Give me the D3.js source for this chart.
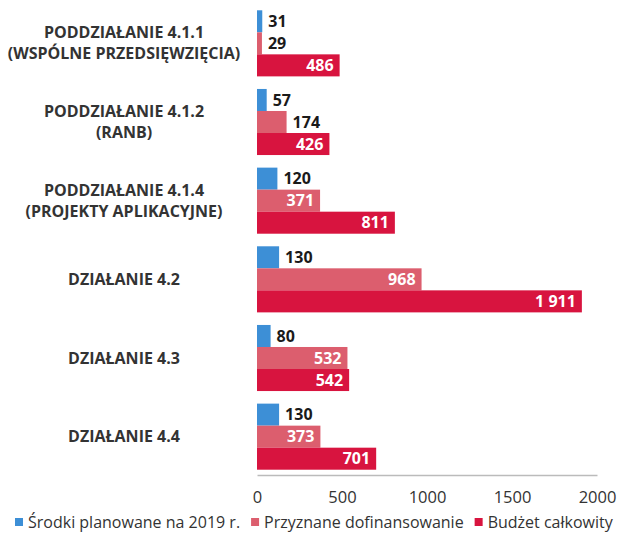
<!DOCTYPE html>
<html>
<head>
<meta charset="utf-8">
<script src="https://cdn.jsdelivr.net/npm/d3@7"></script>
<style>
  body { margin: 0; background: #fff; }
  svg { display: block; font-family: "Open Sans", sans-serif; }
</style>
</head>
<body>
<div id="chart"></div>
<script>
// chart data
const categories = [
  ["PODDZIAŁANIE 4.1.1", "(WSPÓLNE PRZEDSIĘWZIĘCIA)"],
  ["PODDZIAŁANIE 4.1.2", "(RANB)"],
  ["PODDZIAŁANIE 4.1.4", "(PROJEKTY APLIKACYJNE)"],
  ["DZIAŁANIE 4.2"],
  ["DZIAŁANIE 4.3"],
  ["DZIAŁANIE 4.4"]
]
const seriesNames = ["Środki planowane na 2019 r.", "Przyznane dofinansowanie", "Budżet całkowity"]
const planned = [31, 57, 120, 130, 80, 130]
const granted = [29, 174, 371, 968, 532, 373]
const budget = [486, 426, 811, 1911, 542, 701]
const xTicks = [0, 500, 1000, 1500, 2000]

const colors = ["#3d8fd6", "#dc5e6e", "#d8143f"]

const width = 618, height = 533
const margin = ({top: 4, right: 21, bottom: 58, left: 257})

const svg = d3.select("#chart").append("svg")
    .attr("width", width)
    .attr("height", height)

const keys = d3.range(categories.length)
const values = [planned, granted, budget]

const x = d3.scaleLinear()
    .domain([0, 2000])
    .range([margin.left, width - margin.right])

const y = d3.scaleBand()
    .domain(keys)
    .range([margin.top, height - margin.bottom + 1])
    .paddingInner(0.16)
    .paddingOuter(0.08)

const ySub = d3.scaleBand()
    .domain(d3.range(3))
    .range([0, y.bandwidth()])

const fmt = v => d3.format(",")(v).replace(/,/g, " ")

// bars
const group = svg.append("g").selectAll("g")
  .data(keys)
  .join("g")
    .attr("transform", i => `translate(0,${y(i)})`)

group.selectAll("rect")
  .data(i => values.map((s, k) => ({k, v: s[i]})))
  .join("rect")
    .attr("x", x(0))
    .attr("y", d => ySub(d.k))
    .attr("width", d => x(d.v) - x(0))
    .attr("height", ySub.bandwidth())
    .attr("fill", d => colors[d.k])

group.selectAll("text.val")
  .data(i => values.map((s, k) => ({k, v: s[i]})))
  .join("text")
    .attr("class", "val")
    .attr("y", d => ySub(d.k) + ySub.bandwidth() / 2)
    .attr("dy", "0.35em")
    .attr("font-size", 16)
    .attr("font-weight", "bold")
    .each(function(d) {
      const w = x(d.v) - x(0)
      const inside = d.k > 0 && w > 45
      d3.select(this)
        .attr("x", inside ? x(d.v) - 6 : x(d.v) + 6)
        .attr("text-anchor", inside ? "end" : "start")
        .attr("fill", inside ? "#fff" : "#1a1a1a")
    })
    .text(d => fmt(d.v))

// category labels
svg.append("g").selectAll("text")
  .data(keys)
  .join("text")
    .attr("x", 124)
    .attr("text-anchor", "middle")
    .attr("font-size", 16)
    .attr("font-weight", "bold")
    .attr("fill", "#333")
    .each(function(i) {
      const lines = categories[i]
      const cy = y(i) + y.bandwidth() / 2
      d3.select(this).selectAll("tspan")
        .data(lines)
        .join("tspan")
          .attr("x", 124)
          .attr("y", (l, j) => cy + (j - (lines.length - 1) / 2) * 21)
          .attr("dy", "0.35em")
          .text(l => l)
    })

// x axis
const axis = svg.append("g")
    .attr("transform", `translate(0,${height - margin.bottom})`)
    .call(d3.axisBottom(x).tickValues(xTicks).tickSize(0).tickPadding(16).tickFormat(d3.format("d")))

axis.select(".domain").attr("stroke", "#bbb").attr("stroke-width", 1.5)
axis.selectAll("text")
    .attr("font-family", "Open Sans, sans-serif")
    .attr("font-size", 16.5)
    .attr("fill", "#333")

// legend, items laid out one after another
const legend = svg.append("g").attr("transform", "translate(15,522)")
let lx = 0
seriesNames.forEach((name, i) => {
  const item = legend.append("g").attr("transform", `translate(${lx},0)`)
  item.append("rect")
      .attr("width", 8)
      .attr("height", 8)
      .attr("y", -4)
      .attr("fill", colors[i])
  const t = item.append("text")
      .attr("x", 13)
      .attr("dy", "0.35em")
      .attr("font-size", 16)
      .attr("fill", "#333")
      .text(name)
  lx += 13 + t.node().getComputedTextLength() + 11
})
</script>
</body>
</html>
